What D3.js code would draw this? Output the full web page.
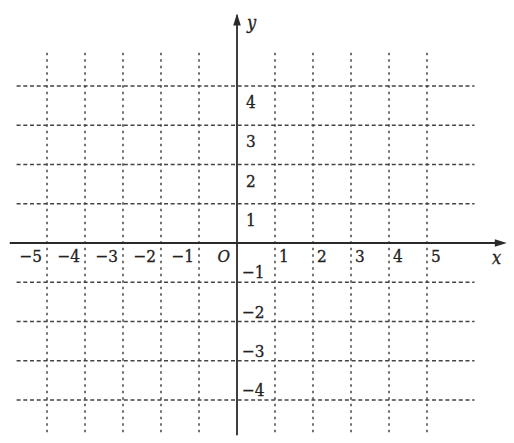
<!DOCTYPE html>
<html>
<head>
<meta charset="utf-8">
<script src="https://cdn.jsdelivr.net/npm/d3@7"></script>
<style>
  html, body { margin: 0; padding: 0; background: #fff; }
  svg { display: block; }
</style>
</head>
<body>
<svg id="chart" width="514" height="443"></svg>
<script>
// ---- data ----
const xTicks = [-5, -4, -3, -2, -1, 1, 2, 3, 4, 5];
const yTicks = [-4, -3, -2, -1, 1, 2, 3, 4];
const xGridValues = [-5, -4, -3, -2, -1, 1, 2, 3, 4, 5];
const yGridValues = [-4, -3, -2, -1, 1, 2, 3, 4];
const xAxisLabel = "x";
const yAxisLabel = "y";
const originLabel = "O";

// ---- scales ----
const svg = d3.select("#chart");
const x = d3.scaleLinear().domain([-5, 5]).range([47, 427]);
const y = d3.scaleLinear().domain([-4, 4]).range([400, 86]);

const gridColor = "#444";
const axisColor = "#2a2a2a";
const textColor = "#222";
const minus = v => (v < 0 ? "\u2212" + Math.abs(v) : String(v));

// horizontal grid lines (dashed)
svg.append("g").selectAll("line").data(yGridValues).join("line")
  .attr("x1", x(-5.8)).attr("x2", x(6.25))
  .attr("y1", d => y(d)).attr("y2", d => y(d))
  .attr("stroke", gridColor).attr("stroke-width", 1.5)
  .attr("stroke-dasharray", "4,2.7");

// vertical grid lines (dotted)
svg.append("g").selectAll("line").data(xGridValues).join("line")
  .attr("x1", d => x(d)).attr("x2", d => x(d))
  .attr("y1", y(4.85)).attr("y2", y(-4.85))
  .attr("stroke", gridColor).attr("stroke-width", 1.5)
  .attr("stroke-dasharray", "2.5,4");

// axes
svg.append("line")
  .attr("x1", x(-5.98)).attr("x2", x(7.0))
  .attr("y1", y(0)).attr("y2", y(0))
  .attr("stroke", axisColor).attr("stroke-width", 1.8);
svg.append("line")
  .attr("x1", x(0)).attr("x2", x(0))
  .attr("y1", y(5.8)).attr("y2", y(-4.9))
  .attr("stroke", axisColor).attr("stroke-width", 1.8);

// arrowheads
const xt = x(7.1), yt0 = y(0);
svg.append("path")
  .attr("d", `M${xt},${yt0} L${xt - 12},${yt0 - 3.8} L${xt - 12},${yt0 + 3.8} Z`)
  .attr("fill", axisColor);
const ytip = y(5.85), xc = x(0);
svg.append("path")
  .attr("d", `M${xc},${ytip} L${xc - 3.8},${ytip + 12} L${xc + 3.8},${ytip + 12} Z`)
  .attr("fill", axisColor);

function styleText(sel, size, italic) {
  sel.attr("font-family", "DejaVu Serif Condensed, DejaVu Serif")
    .attr("font-size", size)
    .attr("fill", textColor)
    .attr("stroke", textColor)
    .attr("stroke-width", 0.3)
    .attr("font-style", italic ? "italic" : "normal");
}

// x tick labels
svg.append("g").selectAll("text").data(xTicks).join("text")
  .attr("x", d => d < 0 ? x(d) - 5 : x(d) + 4)
  .attr("y", y(0) + 19)
  .attr("text-anchor", d => d < 0 ? "end" : "start")
  .call(styleText, 17, false)
  .text(d => minus(d));

// y tick labels
svg.append("g").selectAll("text").data(yTicks).join("text")
  .attr("x", d => d < 0 ? x(0) + 5 : x(0) + 9)
  .attr("y", d => d > 0 ? y(d) + 22 : y(d) - 4)
  .attr("text-anchor", "start")
  .call(styleText, 17, false)
  .text(d => minus(d));

// origin, axis names
svg.append("text")
  .attr("x", x(0) - 7).attr("y", y(0) + 19)
  .attr("text-anchor", "end")
  .call(styleText, 17, true)
  .text(originLabel);
svg.append("text")
  .attr("x", 492).attr("y", y(0) + 21)
  .call(styleText, 18, true)
  .text(xAxisLabel);
svg.append("text")
  .attr("x", x(0) + 10).attr("y", 29)
  .call(styleText, 18, true)
  .text(yAxisLabel);
</script>
</body>
</html>
